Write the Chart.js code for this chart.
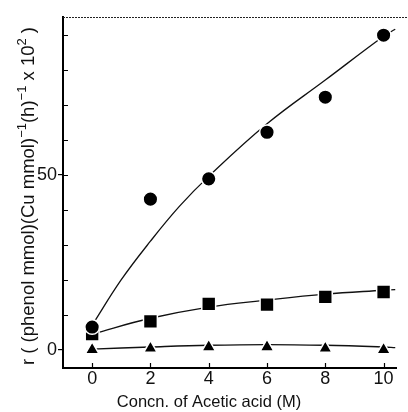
<!DOCTYPE html>
<html>
<head>
<meta charset="utf-8">
<script src="https://cdn.jsdelivr.net/npm/chart.js@4.4.1/dist/chart.umd.min.js"></script>
<style>
  html, body { margin: 0; padding: 0; background: #fff; }
  #wrap { width: 408px; height: 412px; }
</style>
</head>
<body>
<div id="wrap"><canvas id="chartCanvas" width="408" height="412"></canvas></div>
<script>
// 数据
const concn = [0, 2, 4, 6, 8, 10];
const circleRate = [6.5, 43, 48.8, 62.1, 72.1, 89.8];
const squareRate = [4.5, 8.1, 13.1, 12.9, 15.1, 16.5];
const triangleRate = [0, 0.4, 0.8, 0.8, 0.4, 0];

// fitted curves drawn through the points
const circleFitX = [0, 1, 2, 3, 4, 6, 8, 10, 10.4];
const circleFitY = [7, 20, 31, 41, 49.5, 64.5, 77, 89.5, 91.5];
const lowFitX = [0, 2, 4, 6, 8, 10, 10.4];
const squareFitY = [4.5, 9, 12.2, 14.2, 15.9, 17, 17.2];
const triangleFitY = [0.2, 0.8, 1.3, 1.5, 1.3, 0.8, 0.6];

const xTicks = [0, 2, 4, 6, 8, 10];
const yLabelled = [0, 50];
const yTitleParts = [
  ["r ( (phenol mmol)(Cu mmol)", false], ["\u22121", true], ["(h)", false],
  ["\u22121", true], [" x 10", false], ["2", true], [" )", false]
];
const xTitle = "Concn. of Acetic acid (M)";

const FONT = "'Liberation Sans', Arial, sans-serif";

function pts(xs, ys){
  return xs.map((x, i) => ({x: x, y: ys[i]}));
}

function markerSet(ys, style, r){
  return {
    data: pts(concn, ys),
    showLine: false,
    pointStyle: style,
    pointRadius: r,
    pointBackgroundColor: "#000",
    pointBorderColor: "#fff",
    pointBorderWidth: 1.5
  };
}

function fitSet(xs, ys){
  return {
    data: pts(xs, ys),
    showLine: true,
    borderColor: "#111",
    borderWidth: 1.3,
    pointRadius: 0,
    tension: 0.4
  };
}

//画坐标轴里面的小刻度和标题
const decorPlugin = {
  id: "decor",
  beforeDatasetsDraw(chart){
    const ctx = chart.ctx;
    const xs = chart.scales.x, ys = chart.scales.y;
    const a = chart.chartArea;
    ctx.save();
    ctx.strokeStyle = "#000";
    ctx.lineWidth = 1.2;
    ctx.beginPath();
    xTicks.forEach(v => {
      const px = Math.round(xs.getPixelForValue(v)) + 0.5;
      ctx.moveTo(px, a.bottom);
      ctx.lineTo(px, a.bottom - 5);
    });
    for(let v = 10; v <= 90; v += 10){
      const py = Math.round(ys.getPixelForValue(v)) + 0.5;
      ctx.moveTo(a.left, py);
      ctx.lineTo(a.left + 5, py);
    }
    ctx.stroke();
    // dotted top frame
    ctx.strokeStyle = "#222";
    ctx.lineWidth = 1;
    ctx.setLineDash([2, 1]);
    ctx.beginPath();
    ctx.moveTo(a.left, a.top + 0.5);
    ctx.lineTo(chart.width, a.top + 0.5);
    ctx.stroke();
    ctx.restore();
  },
  afterDraw(chart){
    const ctx = chart.ctx;
    ctx.save();
    ctx.fillStyle = "#111";
    // x title
    ctx.font = "16.5px " + FONT;
    ctx.textAlign = "center";
    ctx.textBaseline = "alphabetic";
    ctx.fillText(xTitle, 209, 407);
    // y title, rotated, with superscripts
    const big = "18.5px " + FONT, small = "13px " + FONT;
    let total = 0;
    yTitleParts.forEach(p => {
      ctx.font = p[1] ? small : big;
      total += ctx.measureText(p[0]).width;
    });
    ctx.translate(34, 196);
    ctx.rotate(-Math.PI / 2);
    ctx.textAlign = "left";
    let x = -total / 2;
    yTitleParts.forEach(p => {
      ctx.font = p[1] ? small : big;
      ctx.fillText(p[0], x, p[1] ? -8 : 0);
      x += ctx.measureText(p[0]).width;
    });
    ctx.restore();
  }
};

const ctx = document.getElementById("chartCanvas").getContext("2d");
window.myChart = new Chart(ctx, {
  type: "scatter",
  data: {
    datasets: [
      markerSet(circleRate, "circle", 7.3),
      markerSet(squareRate, "rect", 9.8),
      markerSet(triangleRate, "triangle", 7.8),
      fitSet(circleFitX, circleFitY),
      fitSet(lowFitX, squareFitY),
      fitSet(lowFitX, triangleFitY)
    ]
  },
  plugins: [decorPlugin],
  options: {
    responsive: false,
    animation: false,
    events: [],
    layout: { padding: { top: 17, right: 7, left: 0, bottom: 0 } },
    plugins: { legend: { display: false }, tooltip: { enabled: false } },
    scales: {
      x: {
        type: "linear",
        min: -1,
        max: 10.45,
        afterFit(s){ s.height = 44; },
        afterBuildTicks(s){ s.ticks = xTicks.map(v => ({value: v})); },
        border: { color: "#000", width: 2 },
        grid: { drawOnChartArea: false, drawTicks: false },
        ticks: { color: "#111", font: { family: FONT, size: 18 }, padding: 0 }
      },
      y: {
        type: "linear",
        min: -5.2,
        max: 95,
        afterFit(s){ s.width = 63; },
        afterBuildTicks(s){ s.ticks = yLabelled.map(v => ({value: v})); },
        border: { color: "#000", width: 2 },
        grid: { drawOnChartArea: false, drawTicks: true, tickLength: 5, color: "#000", lineWidth: 1.2 },
        ticks: { color: "#111", font: { family: FONT, size: 18 }, padding: 1 }
      }
    }
  }
});
</script>
</body>
</html>
